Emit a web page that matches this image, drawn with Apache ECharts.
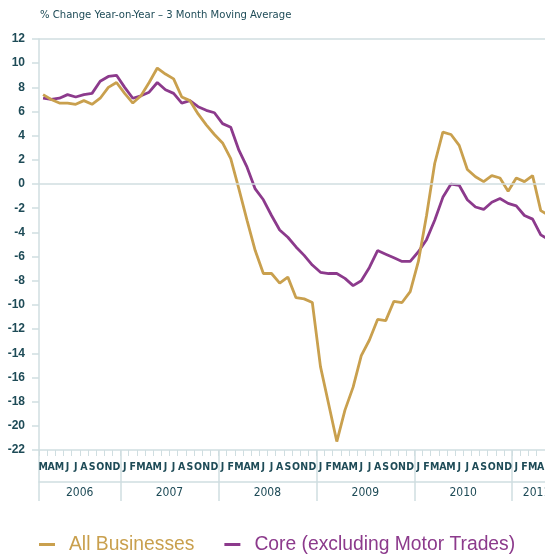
<!DOCTYPE html>
<html>
<head>
<meta charset="utf-8">
<script src="https://cdn.jsdelivr.net/npm/echarts@6/dist/echarts.min.js"></script>
<style>
  html, body { margin: 0; padding: 0; background: #fff; }
  #chart { width: 545px; height: 554px; }
</style>
</head>
<body>
<div id="chart"></div>
<script>
// months Mar 2006 .. May 2011
var monthLetters = ['J', 'F', 'M', 'A', 'M', 'J', 'J', 'A', 'S', 'O', 'N', 'D'];
var years = ['2006', '2007', '2008', '2009', '2010', '2011'];
var yearLabelIdx = [4, 15, 27, 39, 51, 60];   // label sits at the middle of each year band
var yearStartIdx = [0, 10, 22, 34, 46, 58];

var allBusinesses = [
  7.4, 7.0, 6.7, 6.7, 6.6, 6.9, 6.6, 7.1, 8.0, 8.4,
  7.5, 6.7, 7.3, 8.4, 9.6, 9.1, 8.7, 7.2, 6.9, 5.8, 4.9, 4.1,
  3.4, 2.1, -0.4, -3.0, -5.5, -7.4, -7.4, -8.2, -7.7, -9.4, -9.5, -9.8,
  -15.1, -18.2, -21.3, -18.7, -16.8, -14.2, -12.9, -11.2, -11.3, -9.7, -9.8, -8.9,
  -6.4, -2.6, 1.7, 4.3, 4.1, 3.2, 1.2, 0.6, 0.2, 0.7, 0.5, -0.6,
  0.5, 0.2, 0.7, -2.2, -2.6
];
var core = [
  7.1, 7.0, 7.1, 7.4, 7.2, 7.4, 7.5, 8.5, 8.9, 9.0,
  8.0, 7.1, 7.3, 7.6, 8.4, 7.8, 7.5, 6.7, 6.9, 6.4, 6.1, 5.9,
  5.0, 4.7, 2.8, 1.4, -0.4, -1.3, -2.6, -3.8, -4.4, -5.2, -5.9, -6.7,
  -7.3, -7.4, -7.4, -7.8, -8.4, -8.0, -6.9, -5.5, -5.8, -6.1, -6.4, -6.4,
  -5.6, -4.6, -3.0, -1.1, 0.0, -0.1, -1.3, -1.9, -2.1, -1.5, -1.2, -1.6,
  -1.8, -2.6, -2.9, -4.2, -4.6
];

// category keys (year-month), one per data point
var categories = [];
(function () {
  var y = 2006, m = 2;
  for (var i = 0; i < allBusinesses.length; i++) {
    categories.push(y + '-' + m);
    m++;
    if (m > 11) { m = 0; y++; }
  }
})();

var gold = '#c9a04e';
var purple = '#8c3a8c';
var ink = '#1e4b57';
var rule = '#d0dee1';
var narrow = "'DejaVu Sans Condensed', 'Liberation Sans', sans-serif";

var myChart = echarts.init(document.getElementById('chart'));
var option = {
  animation: false,
  title: {
    text: '% Change Year-on-Year \u2013 3 Month Moving Average',
    left: 40,
    top: 10,
    padding: 0,
    textStyle: {
      color: ink,
      fontSize: 11.2,
      fontWeight: 'normal',
      fontFamily: narrow
    }
  },
  legend: {
    left: 39,
    top: 535,
    padding: 0,
    icon: 'rect',
    itemWidth: 16,
    itemHeight: 3,
    itemGap: 30,
    textStyle: {
      fontSize: 19.3,
      fontFamily: 'Liberation Sans',
      padding: [0, 0, 0, 9]
    },
    data: [
      { name: 'All Businesses', textStyle: { color: gold } },
      { name: 'Core (excluding Motor Trades)', textStyle: { color: purple } }
    ]
  },
  grid: { left: 39, width: 514, top: 39, bottom: 104, outerBoundsMode: 'none', containLabel: false },
  xAxis: [
    {
      type: 'category',
      data: categories,
      boundaryGap: true,
      axisLine: { onZero: false, lineStyle: { color: rule, width: 1.5 } },
      axisTick: { show: true, interval: 0, length: 6, lineStyle: { color: rule } },
      axisLabel: {
        interval: 0,
        margin: 12,
        color: ink,
        fontSize: 10.5,
        fontWeight: 'bold',
        fontFamily: narrow,
        formatter: function (v) {
          return monthLetters[+v.split('-')[1]];
        }
      }
    },
    {
      type: 'category',
      data: categories,
      boundaryGap: true,
      position: 'bottom',
      axisLine: { show: false, onZero: false },
      axisTick: {
        show: true,
        length: 51,
        interval: function (i) { return yearStartIdx.indexOf(i) >= 0; },
        lineStyle: { color: rule, width: 1.5 }
      },
      axisLabel: {
        margin: 37,
        color: ink,
        fontSize: 12,
        fontFamily: narrow,
        padding: [0, 0, 0, 8],
        interval: function (i) { return yearLabelIdx.indexOf(i) >= 0; },
        formatter: function (v) { return v.split('-')[0]; }
      }
    },
    {
      type: 'category',
      data: categories,
      position: 'bottom',
      offset: 32,
      axisLine: { show: true, onZero: false, lineStyle: { color: rule, width: 1.5 } },
      axisTick: { show: false },
      axisLabel: { show: false }
    }
  ],
  yAxis: {
    type: 'value',
    min: -22,
    max: 12,
    interval: 2,
    splitLine: { show: false },
    axisLine: { show: true, onZero: false, lineStyle: { color: rule, width: 1.5 } },
    axisTick: { show: true, length: 7, lineStyle: { color: rule, width: 1.5 } },
    axisLabel: {
      margin: 14,
      color: ink,
      fontSize: 12,
      fontWeight: 'bold',
      fontFamily: 'Liberation Sans'
    }
  },
  series: [
    {
      name: 'Core (excluding Motor Trades)',
      type: 'line',
      data: core,
      symbol: 'none',
      lineStyle: { color: purple, width: 2.8 },
      itemStyle: { color: purple },
      markLine: {
        silent: true,
        symbol: 'none',
        label: { show: false },
        lineStyle: { color: rule, type: 'solid', width: 1.5 },
        data: [{ yAxis: 0 }, { yAxis: 12 }]
      }
    },
    {
      name: 'All Businesses',
      type: 'line',
      data: allBusinesses,
      symbol: 'none',
      lineStyle: { color: gold, width: 2.8 },
      itemStyle: { color: gold }
    }
  ]
};
myChart.setOption(option);
</script>
</body>
</html>
